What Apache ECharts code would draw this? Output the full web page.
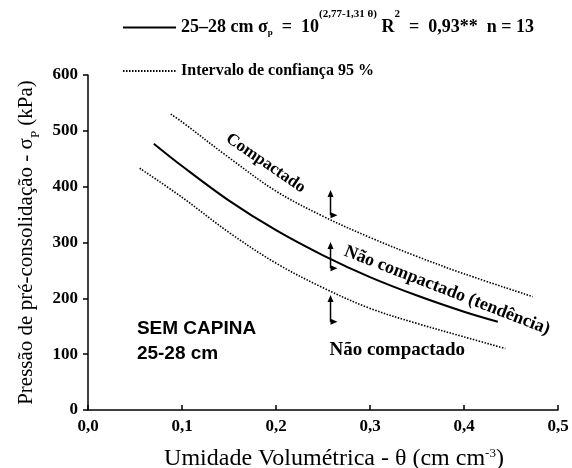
<!DOCTYPE html>
<html>
<head>
<meta charset="utf-8">
<script src="https://cdn.jsdelivr.net/npm/echarts@6/dist/echarts.min.js"></script>
<style>
  html, body { margin: 0; padding: 0; background: #fff; }
  #chart { width: 572px; height: 468px; }
</style>
</head>
<body>
<div id="chart"></div>
<script>
// valores (θ em cm cm-3, σp em kPa)
const thetaMain = [0.07, 0.1, 0.15, 0.2, 0.25, 0.3, 0.35, 0.4, 0.436];
const sigmaMain = [477, 437, 375, 322, 277, 238, 205, 176, 158];

const thetaUpper = [0.088, 0.1, 0.15, 0.2, 0.25, 0.3, 0.35, 0.4, 0.473];
const sigmaUpper = [530, 516, 452, 392, 347, 309, 275, 244, 203];

const thetaLower = [0.055, 0.1, 0.15, 0.2, 0.25, 0.3, 0.35, 0.4, 0.444];
const sigmaLower = [433, 381, 318, 263, 219, 182, 155, 131, 110];

const xTicks = [0, 0.1, 0.2, 0.3, 0.4, 0.5];
const yTicks = [0, 100, 200, 300, 400, 500, 600];

const nameMain = 'ajuste';
const nameCI = 'Intervalo de confiança 95 %';

const serif = '"Liberation Serif", "DejaVu Serif", serif';
const sans = '"Liberation Sans", Arial, sans-serif';
const sp = '\u2002';

const pairs = (xs, ys) => xs.map((x, i) => [x, ys[i]]);

const chart = echarts.init(document.getElementById('chart'));

const legendBase = {
  orient: 'horizontal',
  left: 122,
  padding: 0,
  itemWidth: 53,
  itemHeight: 14,
  itemGap: 10,
  itemStyle: { opacity: 0 },
  textStyle: { fontFamily: serif, fontWeight: 'bold', fontSize: 16, color: '#000' }
};

const lineBase = {
  type: 'line',
  smooth: 0.35,
  symbol: 'none',
  itemStyle: { color: '#000' }
};

const option = {
  animation: false,
  backgroundColor: '#fff',
  grid: { left: 88, right: 14, top: 75, bottom: 58, outerBoundsMode: 'none' },
  legend: [
    Object.assign({}, legendBase, {
      data: [nameMain],
      top: 9,
      textStyle: {
        fontFamily: serif,
        fontWeight: 'bold',
        fontSize: 18,
        color: '#000',
        rich: {
          t: { fontFamily: serif, fontWeight: 'bold', fontSize: 18, color: '#000', lineHeight: 41, verticalAlign: 'middle' },
          sub: { fontFamily: serif, fontWeight: 'bold', fontSize: 9, color: '#000', verticalAlign: 'bottom', padding: [0, 0, 11, 0] },
          sup: { fontFamily: serif, fontWeight: 'bold', fontSize: 11, color: '#000', verticalAlign: 'top', padding: [2, 0, 0, 0] }
        }
      },
      formatter: () => '{t|25–28 cm σ}{sub|p}{t|' + sp + '=' + sp + '10}{sup|(2,77-1,31 θ)}{t| R}{sup|2}{t|' + sp + '=' + sp + '0,93**' + sp + 'n = 13}'
    }),
    Object.assign({}, legendBase, {
      data: [nameCI],
      top: 63
    })
  ],
  xAxis: {
    type: 'value',
    min: 0,
    max: 0.5,
    interval: 0.1,
    name: '{a|Umidade Volumétrica - θ (cm cm}{s|-3}{a|)}',
    nameLocation: 'middle',
    nameGap: 37,
    nameTextStyle: {
      padding: [0, 0, 0, 22],
      rich: {
        a: { fontFamily: serif, fontSize: 24, color: '#000', lineHeight: 24, verticalAlign: 'bottom' },
        s: { fontFamily: serif, fontSize: 13, color: '#000', lineHeight: 13, verticalAlign: 'top' }
      }
    },
    axisLine: { lineStyle: { color: '#000', width: 1.5 } },
    axisTick: { inside: true, length: 5, lineStyle: { color: '#000', width: 1.5 } },
    axisLabel: {
      color: '#000',
      fontFamily: serif,
      fontWeight: 'bold',
      fontSize: 17,
      margin: 8,
      formatter: v => (xTicks.includes(Math.round(v * 10) / 10) ? v.toFixed(1).replace('.', ',') : '')
    },
    splitLine: { show: false }
  },
  yAxis: {
    type: 'value',
    min: 0,
    max: 600,
    interval: 100,
    name: '{a|Pressão de pré-consolidação - σ}{s|P}{a| (kPa)}',
    nameLocation: 'middle',
    nameGap: 46,
    nameRotate: 90,
    nameTextStyle: {
      rich: {
        a: { fontFamily: serif, fontSize: 21, color: '#000', lineHeight: 26, verticalAlign: 'top' },
        s: { fontFamily: serif, fontSize: 13, color: '#000', lineHeight: 13, verticalAlign: 'bottom' }
      }
    },
    axisLine: { show: true, lineStyle: { color: '#000', width: 1.5 } },
    axisTick: { show: true, length: 5, lineStyle: { color: '#000', width: 1.5 } },
    axisLabel: {
      color: '#000',
      fontFamily: serif,
      fontWeight: 'bold',
      fontSize: 17,
      margin: 10,
      formatter: v => (yTicks.includes(v) ? String(v) : '')
    },
    splitLine: { show: false }
  },
  series: [
    Object.assign({}, lineBase, {
      name: nameMain,
      data: pairs(thetaMain, sigmaMain),
      lineStyle: { color: '#000', width: 2, type: 'solid' }
    }),
    Object.assign({}, lineBase, {
      name: nameCI,
      data: pairs(thetaUpper, sigmaUpper),
      lineStyle: { color: '#000', width: 1.6, type: [1.5, 1.5] }
    }),
    Object.assign({}, lineBase, {
      name: nameCI,
      data: pairs(thetaLower, sigmaLower),
      lineStyle: { color: '#000', width: 1.6, type: [1.5, 1.5] }
    })
  ]
};

chart.setOption(option);

// anotações posicionadas em coordenadas de dados
const px = (x, y) => chart.convertToPixel({ gridIndex: 0 }, [x, y]);

const labelText = (pos, text, rotation, style) => ({
  type: 'text',
  x: pos[0],
  y: pos[1],
  rotation: rotation,
  style: Object.assign({
    text: text,
    fill: '#000',
    font: 'bold 17px ' + serif,
    align: 'center',
    verticalAlign: 'middle'
  }, style || {})
});

// seta vertical com ponta para a direita embaixo
const arrow = (x, yTop, yBottom) => {
  const top = px(x, yTop);
  const bot = px(x, yBottom);
  return {
    type: 'group',
    children: [
      { type: 'line', shape: { x1: top[0], y1: top[1] + 5, x2: bot[0], y2: bot[1] }, style: { stroke: '#000', lineWidth: 1.5 } },
      { type: 'polygon', shape: { points: [[top[0] - 3, top[1] + 7], [top[0], top[1]], [top[0] + 3, top[1] + 7]] }, style: { fill: '#000' } },
      { type: 'polygon', shape: { points: [[bot[0], bot[1] - 3], [bot[0] + 7, bot[1]], [bot[0], bot[1] + 3]] }, style: { fill: '#000' } }
    ]
  };
};

chart.setOption({
  graphic: [
    labelText(px(0.189, 442), 'Compactado', -0.6),
    labelText(px(0.382, 214), 'Não compactado (tendência)', -0.37, { font: 'bold 18px ' + serif }),
    labelText(px(0.329, 107), 'Não compactado', 0, { font: 'bold 19px ' + serif }),
    labelText(px(0.052, 146), 'SEM CAPINA', 0, { font: 'bold 19px ' + sans, align: 'left' }),
    labelText(px(0.052, 101), '25-28 cm', 0, { font: 'bold 19px ' + sans, align: 'left' }),
    arrow(0.258, 394, 349),
    arrow(0.258, 301, 254),
    arrow(0.258, 206, 158)
  ]
});
</script>
</body>
</html>
